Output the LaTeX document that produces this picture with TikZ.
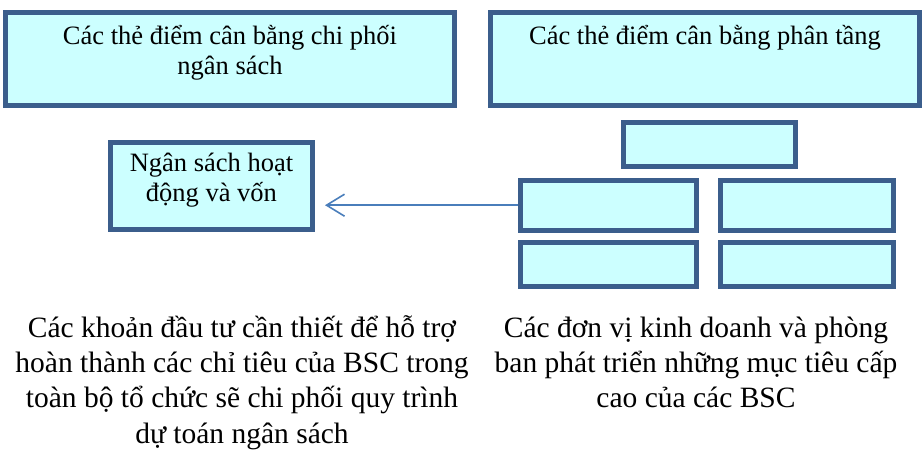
\documentclass[tikz,border=0pt]{standalone}
\usepackage{fontspec}
\setmainfont{Liberation Serif}
\usetikzlibrary{arrows.meta}
\definecolor{edgeblue}{HTML}{3B5E8C}
\definecolor{cardfill}{HTML}{CCFFFF}
\definecolor{arrowblue}{HTML}{4A7EBB}

\begin{document}
\begin{tikzpicture}[x=1pt, y=-1pt,
  card/.style={draw=edgeblue, line width=5pt, fill=cardfill, inner sep=0pt},
  cardtext/.style={font=\fontsize{26.5}{29.5}\selectfont, align=center, anchor=north, inner sep=0pt},
  note/.style={font=\fontsize{29.5}{35.3}\selectfont, align=center, anchor=north, inner sep=0pt},
  flow/.style={draw=arrowblue, line width=1.6pt, -{Straight Barb[length=18pt, width=22pt, line width=1.6pt]}}]
\useasboundingbox (0,0) rectangle (923,453);
% two headline cards
\node[card, minimum width=449pt, minimum height=93pt] (drive) at (230,59) {};
\node[card, minimum width=429pt, minimum height=93pt] (layer) at (705,59) {};
\node[cardtext] (drivetxt) at (230,25.5) {Các thẻ điểm cân bằng chi phối\\ngân sách};
\node[cardtext] (layertxt) at (705,25.5) {Các thẻ điểm cân bằng phân tầng};
% budget card
\node[card, minimum width=202pt, minimum height=87pt, font=\fontsize{26.5}{30}\selectfont, align=center, text depth=17pt] (budget) at (211.5,186) {Ngân sách hoạt\\động và vốn};
% cascade of unit cards
\node[card, minimum width=172pt, minimum height=44pt] (top) at (709,144.5) {};
\node[card, minimum width=176pt, minimum height=50pt] (midL) at (608.3,205.2) {};
\node[card, minimum width=173pt, minimum height=50pt] (midR) at (806.8,205.2) {};
\node[card, minimum width=176pt, minimum height=44pt] (lowL) at (608.3,264.5) {};
\node[card, minimum width=173pt, minimum height=44pt] (lowR) at (806.8,264.5) {};
\coordinate (tip) at (325,205.2); \draw[flow] (midL.west) -- (tip);
% notes underneath
\node[note] (invest) at (242,315) {Các khoản đầu tư cần thiết để hỗ trợ\\hoàn thành các chỉ tiêu của BSC trong\\toàn bộ tổ chức sẽ chi phối quy trình\\dự toán ngân sách};
\node[note] (units) at (696,316.5) {Các đơn vị kinh doanh và phòng\\ban phát triển những mục tiêu cấp\\cao của các BSC};
\end{tikzpicture}
\end{document}
